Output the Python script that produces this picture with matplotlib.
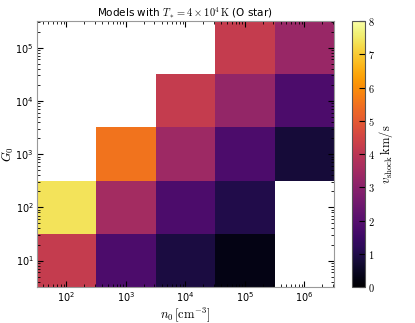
import numpy as np
import matplotlib
matplotlib.use("Agg")
import matplotlib.pyplot as plt
from matplotlib.ticker import LogLocator, FuncFormatter

plt.rcParams['mathtext.fontset'] = 'cm'
plt.rcParams['font.family'] = 'DejaVu Sans'

# data
n0_exp = [2, 3, 4, 5, 6]          # log10 n0 cell centres
G0_exp = [1, 2, 3, 4, 5]          # log10 G0 cell centres
nan = np.nan
vshock = [
    [4.2, 1.8, 0.9, 0.3, nan],    # G0 = 1e1
    [7.4, 3.5, 1.8, 1.0, nan],    # G0 = 1e2
    [nan, 5.5, 3.4, 1.8, 0.8],    # G0 = 1e3
    [nan, nan, 4.2, 3.2, 1.8],    # G0 = 1e4
    [nan, nan, nan, 4.2, 3.3],    # G0 = 1e5
]
cbar_ticks = [0, 1, 2, 3, 4, 5, 6, 7, 8]
title = r"Models with $T_* = 4\times10^4\,{\rm K}$ (O star)"

fig = plt.figure(figsize=(4.15, 3.23), dpi=100)
ax = fig.add_axes([0.088, 0.111, 0.717, 0.824])
cax = fig.add_axes([0.848, 0.111, 0.031, 0.824])

xe = 10.0 ** (np.array(n0_exp + [n0_exp[-1] + 1]) - 0.5)
ye = 10.0 ** (np.array(G0_exp + [G0_exp[-1] + 1]) - 0.5)
Z = np.ma.masked_invalid(np.array(vshock))
pc = ax.pcolormesh(xe, ye, Z, cmap='inferno', vmin=0, vmax=8)
ax.set_xscale('log')
ax.set_yscale('log')
ax.set_xlim(xe[0], xe[-1])
ax.set_ylim(ye[0], ye[-1])
ax.tick_params(which='both', direction='in', top=True, right=True, labelsize=7, pad=2)
ax.tick_params(which='major', length=4, width=0.8)
ax.tick_params(which='minor', length=2, width=0.6)
ax.xaxis.set_major_locator(LogLocator(base=10, numticks=10))
ax.yaxis.set_major_locator(LogLocator(base=10, numticks=10))
ax.set_xlabel(r"$n_0\,[{\rm cm^{-3}}]$", fontsize=9, labelpad=1)
ax.set_ylabel(r"$G_0$", fontsize=9)
ax.yaxis.set_label_coords(-0.068, 0.5)
ax.set_title(title, fontsize=7.5, pad=3)
for s in ax.spines.values():
    s.set_color('#999999')

cb = fig.colorbar(pc, cax=cax)
cb.set_ticks(cbar_ticks)
cb.ax.yaxis.set_major_formatter(FuncFormatter(lambda v, p: r"$%d$" % v))
cb.ax.tick_params(direction='in', labelsize=7.5, length=4, pad=2)
cb.set_label(r"$v_{\rm shock}\,{\rm km/s}$", fontsize=9, labelpad=2)
cb.outline.set_edgecolor('#555555')

fig.savefig("out.png", dpi=100)
